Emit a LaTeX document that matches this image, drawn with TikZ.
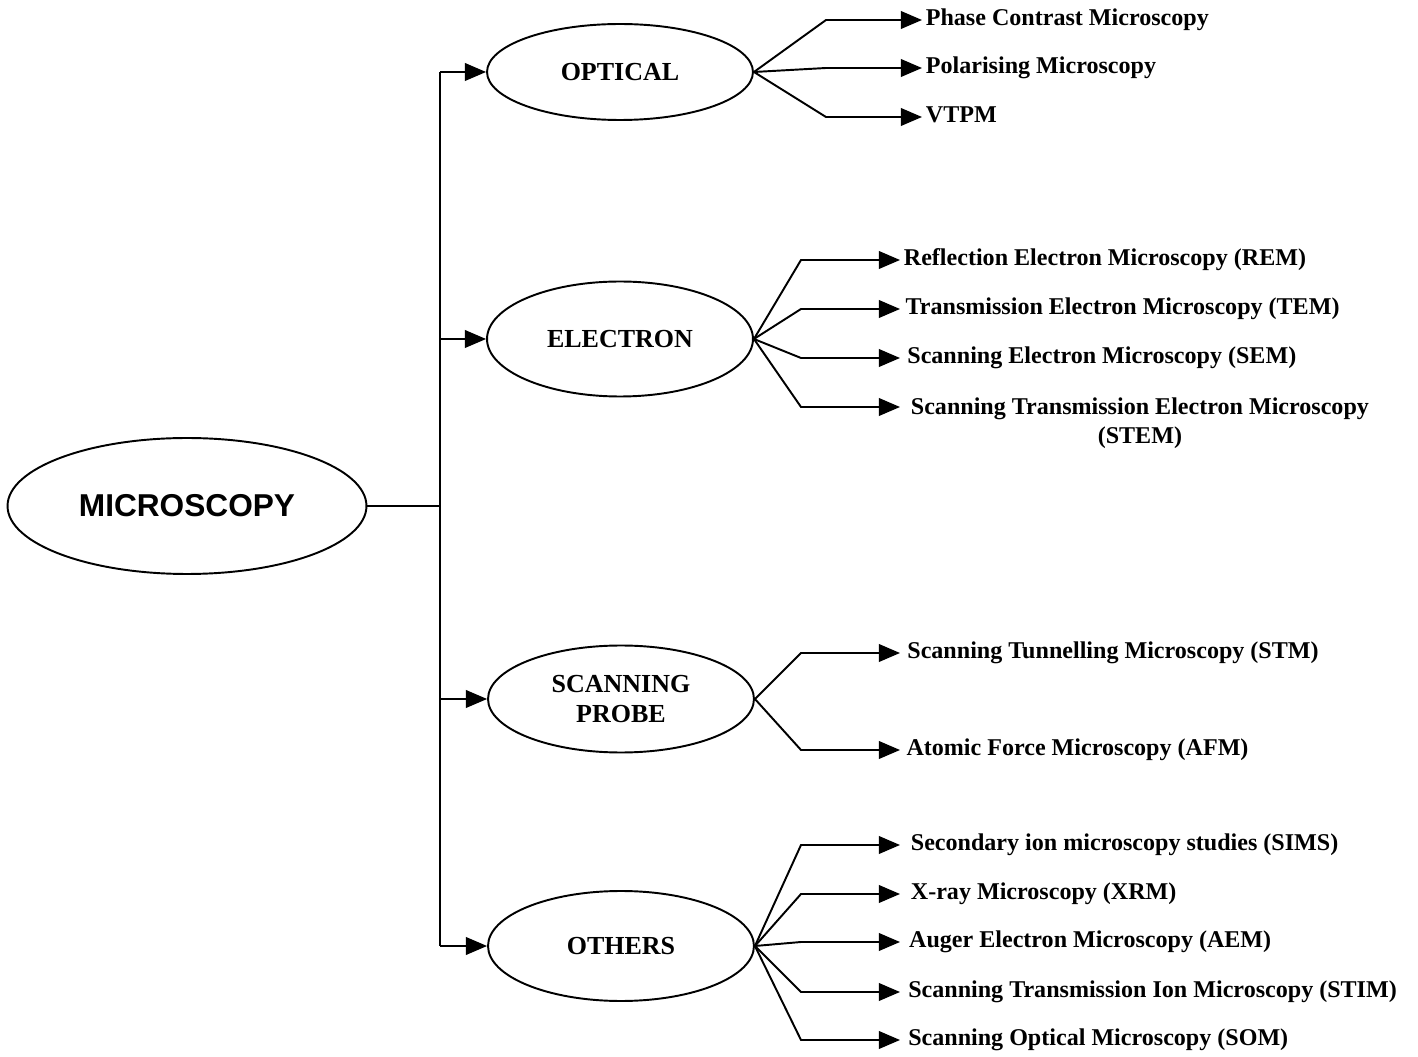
\documentclass[tikz,border=0pt]{standalone}
\usepackage{fontspec}
\setmainfont{Liberation Serif}
\newfontfamily\arialfont{Liberation Sans}
\usetikzlibrary{shapes.geometric,arrows.meta}
\tikzset{
  root/.style={ellipse,draw,line width=1.1pt,inner sep=0pt,minimum width=7.18cm,minimum height=2.72cm,
    font=\arialfont\bfseries\fontsize{18}{21}\selectfont},
  group/.style={ellipse,draw,line width=1.1pt,inner sep=0pt,minimum width=5.32cm,align=center,
    font=\bfseries\fontsize{14.8}{17.5}\selectfont},
  item/.style={anchor=west,inner sep=2pt,text height=1.5ex,text depth=.25ex,
    font=\bfseries\fontsize{13.7}{16.5}\selectfont},
  link/.style={line width=1.1pt},
  tip/.style={link,-{Triangle[length=12pt,width=10pt]}}
}
\begin{document}
\begin{tikzpicture}[x=0.02cm,y=-0.02cm]
  \useasboundingbox (0,0) rectangle (1418,1057);
  \draw
    (187,506) node[root] (micro){MICROSCOPY}
    (620,72) node[group,minimum height=1.92cm] (optical){OPTICAL}
    (620,339) node[group,minimum height=2.3cm] (electron){ELECTRON}
    (621,699) node[group,minimum height=2.14cm] (probe){SCANNING\\PROBE}
    (621,946) node[group,minimum height=2.2cm] (others){OTHERS}
    (922,20) node[item] (phase){Phase Contrast Microscopy}
    (922,68) node[item] (polar){Polarising Microscopy}
    (922,117) node[item] (vtpm){VTPM}
    (900,260) node[item] (rem){Reflection Electron Microscopy (REM)}
    (900,309) node[item,inner xsep=3pt] (tem){Transmission Electron Microscopy (TEM)}
    (900,358) node[item,inner xsep=4pt] (sem){Scanning Electron Microscopy (SEM)}
    (900,423) node[item,inner xsep=6pt,align=center,text height=,text depth=] (stem){Scanning Transmission Electron Microscopy\\(STEM)}
    (900,653) node[item,inner xsep=4pt] (stm){Scanning Tunnelling Microscopy (STM)}
    (900,750) node[item,inner xsep=3.5pt] (afm){Atomic Force Microscopy (AFM)}
    (900,845) node[item,inner xsep=6pt] (sims){Secondary ion microscopy studies (SIMS)}
    (900,894) node[item,inner xsep=6pt] (xrm){X-ray Microscopy (XRM)}
    (900,942) node[item,inner xsep=5pt] (aem){Auger Electron Microscopy (AEM)}
    (900,992) node[item,inner xsep=4.5pt] (stim){Scanning Transmission Ion Microscopy (STIM)}
    (900,1040) node[item,inner xsep=4.5pt] (som){Scanning Optical Microscopy (SOM)};
  \draw
    (440,506) coordinate (trunk)
    (826,20) coordinate (o1)
    (826,68) coordinate (o2)
    (826,117) coordinate (o3)
    (801,260) coordinate (e1)
    (801,309) coordinate (e2)
    (801,358) coordinate (e3)
    (801,407) coordinate (e4)
    (801,653) coordinate (p1)
    (801,750) coordinate (p2)
    (801,845) coordinate (x1)
    (801,894) coordinate (x2)
    (801,942) coordinate (x3)
    (801,992) coordinate (x4)
    (801,1040) coordinate (x5);
  \begin{scope}[link]
    \draw (micro.east) -- (trunk);
    \draw (optical.west -| trunk) -- (others.west -| trunk);
  \end{scope}
  \begin{scope}[tip]
    \draw (optical.west -| trunk) -- (optical.west);
    \draw (electron.west -| trunk) -- (electron.west);
    \draw (probe.west -| trunk) -- (probe.west);
    \draw (others.west -| trunk) -- (others.west);
    \draw (optical.east) -- (o1) -- (o1 -| phase.west);
    \draw (optical.east) -- (o2) -- (o2 -| polar.west);
    \draw (optical.east) -- (o3) -- (o3 -| vtpm.west);
    \draw (electron.east) -- (e1) -- (e1 -| rem.west);
    \draw (electron.east) -- (e2) -- (e2 -| tem.west);
    \draw (electron.east) -- (e3) -- (e3 -| sem.west);
    \draw (electron.east) -- (e4) -- (e4 -| stem.west);
    \draw (probe.east) -- (p1) -- (p1 -| stm.west);
    \draw (probe.east) -- (p2) -- (p2 -| afm.west);
    \draw (others.east) -- (x1) -- (x1 -| sims.west);
    \draw (others.east) -- (x2) -- (x2 -| xrm.west);
    \draw (others.east) -- (x3) -- (x3 -| aem.west);
    \draw (others.east) -- (x4) -- (x4 -| stim.west);
    \draw (others.east) -- (x5) -- (x5 -| som.west);
  \end{scope}
\end{tikzpicture}
\end{document}
